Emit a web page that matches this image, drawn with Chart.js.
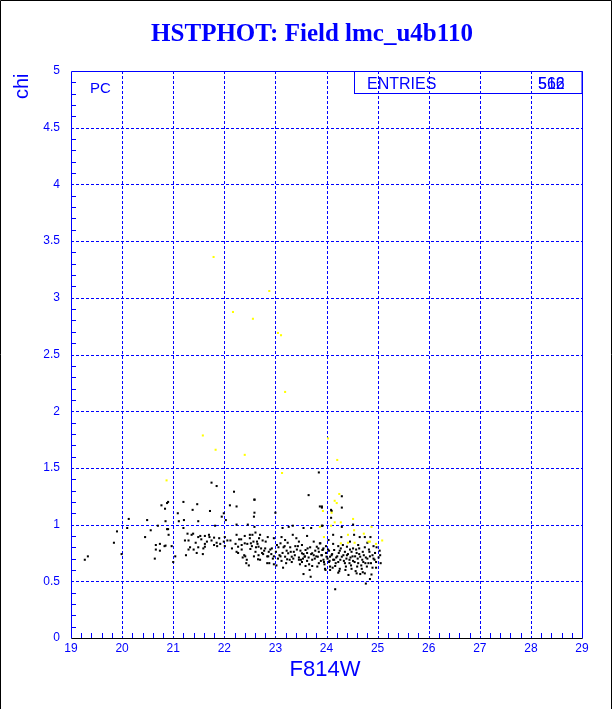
<!DOCTYPE html>
<html><head><meta charset="utf-8">
<script src="https://cdn.jsdelivr.net/npm/chart.js@4.4.0/dist/chart.umd.min.js"></script>
<style>html,body{margin:0;padding:0;background:#fff;}canvas{display:block;}</style>
</head><body>
<canvas id="c" width="612" height="709"></canvas>
<script>
const titleText = 'HSTPHOT: Field lmc_u4b110';
const xAxisTitle = 'F814W';
const yAxisTitle = 'chi';
const cornerLabel = 'PC';
const entriesLabel = 'ENTRIES';
const entriesValues = ['516', '562'];
const xRange = [19, 29];
const yRange = [0, 5];

const blackX = [
19.27,19.33,19.84,19.90,19.99,20.10,20.13,20.45,20.56,20.49,20.66,20.74,20.70,20.66,20.74,20.64,20.83,20.85,20.88,20.77,20.84,20.88,
21.75,21.85,22.19,22.59,21.20,20.90,21.47,22.11,22.24,21.09,21.38,21.72,21.99,21.95,21.21,21.11,21.49,21.82,22.03,22.24,22.46,22.59,
20.90,20.91,21.20,21.36,21.39,21.49,21.53,21.62,21.70,21.71,21.80,21.90,22.01,22.12,22.24,22.29,22.40,22.50,22.55,22.50,21.30,21.23,
21.44,21.75,21.85,21.62,20.97,21.33,21.30,21.49,21.59,21.62,21.80,21.86,21.99,22.01,22.22,22.27,22.34,22.40,22.52,22.51,22.24,22.27,
22.39,22.41,22.44,22.43,22.48,22.34,21.04,21.00,21.25,21.46,21.58,20.85,
23.85,23.65,22.59,22.59,22.58,23.00,23.91,24.09,23.14,23.26,23.34,23.55,23.70,23.91,23.34,23.62,22.61,22.70,22.85,22.97,23.19,23.46,
23.75,23.88,24.04,22.64,22.75,23.10,22.54,22.67,22.80,22.93,23.06,23.18,23.29,23.39,23.52,23.59,23.68,23.81,23.94,22.61,22.74,22.87,
23.01,23.14,23.25,23.36,23.49,23.52,23.62,23.72,23.85,23.99,22.67,22.84,22.97,23.10,23.19,23.32,23.46,23.57,23.65,23.75,23.83,23.91,
23.94,24.07,22.66,22.84,22.97,23.12,23.23,23.32,23.46,23.52,23.59,23.72,23.85,23.98,24.07,23.55,23.69,22.57,
23.87,23.91,24.10,24.30,24.30,24.09,23.92,24.30,24.52,24.13,24.29,24.54,24.65,24.75,24.86,24.46,23.87,23.99,24.13,24.23,24.32,24.40,
24.52,24.64,24.75,24.92,24.98,23.92,24.03,24.15,24.26,24.36,24.49,24.59,24.71,24.84,24.95,25.05,23.90,24.00,24.10,24.19,24.30,24.40,
24.47,24.56,24.66,24.77,24.85,24.92,25.06,23.95,24.05,24.13,24.23,24.34,24.45,24.52,24.62,24.72,24.82,24.97,23.97,24.07,24.17,24.26,
24.38,24.49,24.60,24.69,24.79,24.90,24.23,24.43,24.59,24.66,24.75,24.85,24.77,24.17,
24.02,24.06,24.11,24.15,24.18,24.21,24.24,24.27,24.33,24.36,24.39,24.42,24.45,24.48,24.51,24.55,24.58,24.61,24.64,24.68,24.70,24.73,
24.76,24.80,24.83,24.87,24.90,24.94,24.97,25.02,25.04,24.12,24.25,24.37,24.57,24.71,24.88,24.05,24.28,24.46,24.62,24.80,23.72,23.78,
23.62,23.55,23.42,23.38,23.28,23.22,23.05,22.92,22.78,22.70,22.62,23.82,23.67,23.96,23.48,23.15,22.88,23.02,
22.65,22.72,22.81,22.90,22.95,23.03,23.08,23.16,23.24,23.30,23.35,23.44,23.50,23.58,23.63,23.70,23.77,23.84,23.89,22.58,
22.68,22.76,22.86,23.12,23.21,23.41,23.54,23.66,23.80,23.93,21.55,21.66,21.92,22.06,22.15,22.33,21.40,21.28,22.45,22.36
];
const blackY = [
0.69,0.72,0.84,0.94,0.74,0.97,1.05,0.89,0.95,1.04,0.82,0.83,0.99,0.78,0.77,0.70,0.81,1.03,1.19,1.17,1.14,0.96,
1.37,1.34,1.29,1.22,1.20,1.20,1.18,1.17,1.16,1.10,1.13,1.12,1.10,1.07,1.04,1.03,1.03,0.99,1.04,1.00,1.00,0.98,
0.96,0.91,0.97,0.91,0.92,0.89,0.90,0.90,0.91,0.89,0.885,0.88,0.89,0.86,0.91,0.87,0.90,0.91,0.91,0.88,0.86,0.86,
0.84,0.86,0.84,0.83,0.81,0.80,0.78,0.80,0.79,0.805,0.82,0.81,0.85,0.81,0.83,0.805,0.82,0.835,0.835,0.785,0.76,0.75,
0.73,0.72,0.69,0.66,0.64,0.78,0.72,0.67,0.73,0.75,0.74,0.815,
1.46,1.26,1.22,1.105,1.07,1.105,1.16,1.13,0.97,0.98,0.99,0.97,0.97,0.99,0.91,0.90,0.93,0.91,0.89,0.88,0.864,0.85,
0.85,0.835,0.864,0.85,0.86,0.835,0.81,0.805,0.79,0.79,0.80,0.81,0.80,0.81,0.82,0.776,0.80,0.805,0.79,0.76,0.75,0.76,
0.76,0.75,0.747,0.76,0.77,0.747,0.75,0.747,0.76,0.75,0.73,0.72,0.72,0.72,0.717,0.717,0.71,0.717,0.71,0.73,0.717,0.73,
0.69,0.717,0.694,0.66,0.65,0.68,0.694,0.67,0.69,0.67,0.635,0.635,0.66,0.60,0.60,0.564,0.54,0.85,
1.16,1.15,1.12,1.25,1.15,1.06,0.99,0.98,1.00,0.91,0.89,0.91,0.89,0.89,0.89,0.85,0.835,0.81,0.83,0.81,0.82,0.805,
0.79,0.79,0.80,0.81,0.80,0.776,0.78,0.776,0.77,0.76,0.76,0.75,0.76,0.76,0.75,0.73,0.73,0.717,0.73,0.71,0.717,0.73,
0.71,0.72,0.717,0.71,0.72,0.70,0.66,0.67,0.67,0.69,0.67,0.68,0.66,0.68,0.66,0.67,0.66,0.67,0.61,0.63,0.635,0.61,
0.63,0.61,0.63,0.61,0.63,0.62,0.576,0.556,0.57,0.564,0.57,0.52,0.48,0.43,
0.70,0.68,0.74,0.69,0.66,0.72,0.75,0.69,0.73,0.66,0.70,0.74,0.69,0.64,0.72,0.67,0.78,0.70,0.74,0.64,0.69,0.73,
0.66,0.70,0.78,0.66,0.73,0.69,0.62,0.71,0.77,0.62,0.59,0.60,0.59,0.58,0.56,0.77,0.79,0.78,0.82,0.84,0.69,0.77,
0.68,0.74,0.78,0.73,0.69,0.77,0.70,0.74,0.77,0.69,0.80,0.63,0.60,0.65,0.65,0.62,0.66,0.64,
0.83,0.79,0.85,0.78,0.70,0.82,0.73,0.80,0.84,0.76,0.70,0.81,0.69,0.72,0.79,0.74,0.70,0.79,0.68,0.72,
0.88,0.74,0.72,0.89,0.66,0.88,0.70,0.65,0.72,0.78,0.87,0.85,0.83,0.86,0.79,0.87,0.78,0.92,0.83,0.71
];
const yellowX = [21.79,22.17,22.56,22.88,23.05,23.11,23.19,21.58,21.83,22.40,20.87,23.13,24.03,24.21,24.25,24.16,24.20,23.93,
24.10,24.52,24.28,24.16,24.09,24.88,23.87,23.95,24.54,24.42,24.73,25.09,24.28,24.42,24.55,24.82,24.85,24.97];
const yellowY = [3.36,2.875,2.815,3.06,2.69,2.67,2.17,1.786,1.66,1.615,1.39,1.455,1.76,1.57,1.27,1.21,1.19,1.12,
1.105,1.05,1.02,1.02,0.99,0.98,0.98,0.89,0.95,0.91,0.92,0.86,0.835,0.84,0.84,0.85,0.85,0.83];

const BLUE = '#0000ff';
const toPts = (xs, ys) => xs.map((v, i) => ({x: v, y: ys[i]}));

const decor = {
  id: 'decor',
  beforeDatasetsDraw(chart) {
    const {ctx, chartArea: a, scales: {x, y}} = chart;
    ctx.save();
    ctx.lineWidth = 1;
    ctx.strokeStyle = BLUE;
    const line = (x1, y1, x2, y2) => { ctx.beginPath(); ctx.moveTo(x1, y1); ctx.lineTo(x2, y2); ctx.stroke(); };
    ctx.setLineDash([3, 2]);
    for (let v = xRange[0] + 1; v < xRange[1]; v++) {
      const px = Math.round(x.getPixelForValue(v)) + 0.5;
      line(px, a.top, px, a.bottom);
    }
    for (let i = 1; i < 10; i++) {
      const py = Math.round(y.getPixelForValue(i * 0.5)) + 0.5;
      line(a.left, py, a.right, py);
    }
    ctx.setLineDash([]);
    for (let i = 1; i < 50; i++) {
      if (i % 5 === 0) continue;
      const py = Math.round(y.getPixelForValue(i / 10)) + 0.5;
      line(a.left, py, a.left + 5, py);
    }
    for (let i = 1; i < 50; i++) {
      if (i % 5 === 0) continue;
      const px = Math.round(x.getPixelForValue(xRange[0] + i * 0.2)) + 0.5;
      line(px, a.bottom, px, a.bottom - 5);
    }
    // legend box
    const bl = Math.round(a.right - 228) + 0.5, bb = Math.round(a.top + 22) + 0.5;
    ctx.strokeRect(bl, Math.round(a.top) + 0.5, Math.round(a.right) - bl, bb - Math.round(a.top) - 0.5);
    // frame
    const L = Math.round(a.left) + 0.5, R = Math.round(a.right) + 0.5, T = Math.round(a.top) + 0.5, B = Math.round(a.bottom) + 0.5;
    line(L, T, R, T); line(L, T, L, B); line(R, T, R, B);
    ctx.strokeStyle = '#000';
    line(L, B, R, B);
    ctx.restore();
  },
  afterDraw(chart) {
    const {ctx, chartArea: a} = chart;
    ctx.save();
    ctx.fillStyle = BLUE;
    ctx.textBaseline = 'alphabetic';
    ctx.font = 'bold 25px "Liberation Serif", serif';
    ctx.textAlign = 'center';
    ctx.fillText(titleText, 312, 41);
    ctx.font = '22px "Liberation Sans", sans-serif';
    ctx.fillText(xAxisTitle, 325, 676);
    ctx.textAlign = 'left';
    ctx.font = '15px "Liberation Sans", sans-serif';
    ctx.fillText(cornerLabel, 90, 93);
    ctx.font = '16px "Liberation Sans", sans-serif';
    ctx.fillText(entriesLabel, a.right - 215, a.top + 18);
    entriesValues.forEach(s => ctx.fillText(s, a.right - 44, a.top + 18));
    ctx.save();
    ctx.translate(28, 99);
    ctx.rotate(-Math.PI / 2);
    ctx.font = '20px "Liberation Sans", sans-serif';
    ctx.fillText(yAxisTitle, 0, 0);
    ctx.restore();
    // outer border
    ctx.strokeStyle = '#000';
    ctx.lineWidth = 1;
    ctx.beginPath();
    ctx.moveTo(0.5, 709); ctx.lineTo(0.5, 0.5); ctx.lineTo(611.5, 0.5); ctx.lineTo(611.5, 709);
    ctx.stroke();
    ctx.restore();
  }
};

new Chart(document.getElementById('c'), {
  type: 'scatter',
  data: {
    datasets: [
      {label: 'yellow', data: toPts(yellowX, yellowY), backgroundColor: '#ffff00', borderWidth: 0, pointStyle: 'rect', pointRadius: 1.45, order: 0},
      {label: 'black', data: toPts(blackX, blackY), backgroundColor: '#000000', borderWidth: 0, pointStyle: 'rect', pointRadius: 1.45, order: 1}
    ]
  },
  options: {
    responsive: false,
    animation: false,
    events: [],
    layout: {padding: {top: 71, right: 30, left: 0, bottom: 0}},
    plugins: {legend: {display: false}, tooltip: {enabled: false}, title: {display: false}},
    scales: {
      x: {
        type: 'linear', min: xRange[0], max: xRange[1],
        grid: {display: false, drawTicks: false}, border: {display: false},
        ticks: {stepSize: 1, color: BLUE, font: {family: '"Liberation Sans", sans-serif', size: 12}, padding: 3, maxRotation: 0,
                callback: v => String(v)},
        afterFit(s) { s.height = 71; }
      },
      y: {
        type: 'linear', min: yRange[0], max: yRange[1],
        grid: {display: false, drawTicks: false}, border: {display: false},
        ticks: {stepSize: 0.5, color: BLUE, font: {family: '"Liberation Sans", sans-serif', size: 12}, padding: 11,
                callback: v => String(Math.round(v * 10) / 10)},
        afterFit(s) { s.width = 71; }
      }
    }
  },
  plugins: [decor]
});
</script>
</body></html>
